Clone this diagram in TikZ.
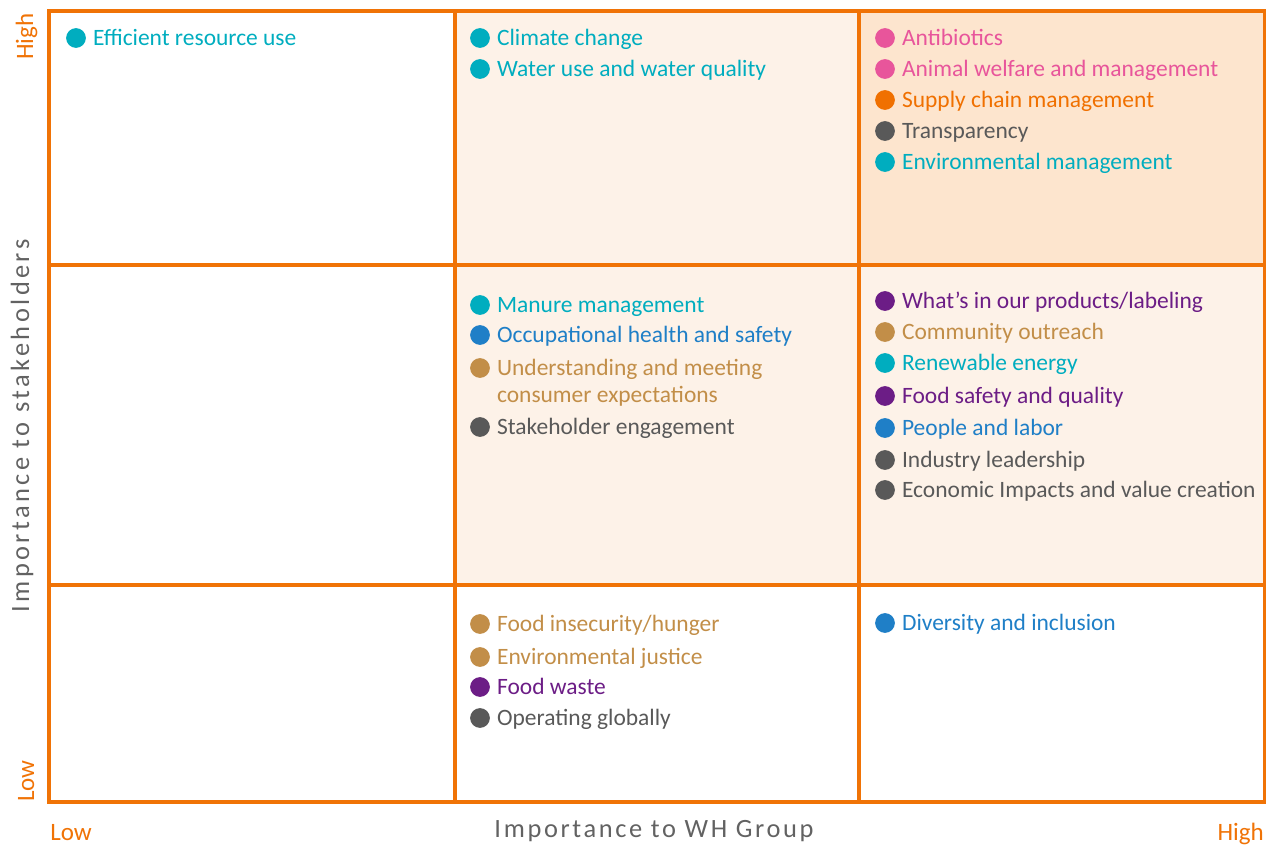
\documentclass[tikz,border=0pt]{standalone}
\usepackage{fontspec}
\setmainfont{Carlito}
\usepackage{tikz}
\usetikzlibrary{positioning}
\definecolor{frameOrange}{HTML}{F07306}
\definecolor{lightPeach} {HTML}{FDF2E8}
\definecolor{deepPeach}  {HTML}{FDE5CE}
\definecolor{envTeal}    {HTML}{00ADBF}
\definecolor{animalPink} {HTML}{E8559B}
\definecolor{chainOrange}{HTML}{F07000}
\definecolor{govGray}    {HTML}{595959}
\definecolor{titleGray}  {HTML}{626262}
\definecolor{socialTan}  {HTML}{C28E48}
\definecolor{prodPurple} {HTML}{6C1D86}
\definecolor{peopleBlue} {HTML}{1F7FC7}
\tikzset{
  grid line/.style={draw=frameOrange, line width=3pt},
  topic dot/.style={circle, inner sep=0pt, minimum size=14.8pt},
  topic text/.style={inner sep=0pt, font=\fontsize{17.6pt}{20pt}\selectfont},
  axis end/.style={inner sep=0pt, text=frameOrange, font=\fontsize{18.75pt}{22pt}\selectfont},
  axis title/.style={inner sep=0pt, text=titleGray,
    font=\fontsize{19.8pt}{24pt}\selectfont\addfontfeatures{LetterSpace=#1}},
  axis title/.default=10,
}
% dot + label, #2/#3 = dot centre
\newcommand{\topic}[5]{%
  \node[topic dot, fill=#4] (#1-dot) at (#2, #3) {};
  \node[topic text, text=#4, right=5pt of #1-dot, anchor=base west, yshift=-5.5pt] (#1) {#5};%
}

\begin{document}
\begin{tikzpicture}[x=0.75pt, y=-0.75pt]
\useasboundingbox (0,0) rectangle (1266,845);

% --- SHADED CELLS ---
\fill[lightPeach] (455,11) rectangle (859,265);
\fill[deepPeach]  (859,11) rectangle (1265,265);
\fill[lightPeach] (455,265) rectangle (1265,585);

% --- GRID ---
\draw[grid line] (455,11) -- (455,802);
\draw[grid line] (859,11) -- (859,802);
\draw[grid line] (49,265) -- (1265,265);
\draw[grid line] (49,585) -- (1265,585);
\draw[grid line] (49,11) rectangle (1265,802);

% --- TOPICS ---
% ROW high
\topic{effres}  {76}{38}{envTeal}{Efficient resource use}
\topic{climate} {480}{38}{envTeal}{Climate change}
\topic{water}   {480}{69}{envTeal}{Water use and water quality}
\topic{antibio} {885}{38}{animalPink}{Antibiotics}
\topic{welfare} {885}{69}{animalPink}{Animal welfare and management}
\topic{supply}  {885}{100}{chainOrange}{Supply chain management}
\topic{transp}  {885}{131}{govGray}{Transparency}
\topic{envmgmt} {885}{162}{envTeal}{Environmental management}
% ROW medium
\topic{manure}  {480}{305}{envTeal}{Manure management}
\topic{ohs}     {480}{335}{peopleBlue}{Occupational health and safety}
\topic{consumer}{480}{368}{socialTan}{Understanding and meeting}
\node[topic text, text=socialTan, anchor=base west] (consumer-2)
  at ([yshift=-20pt]consumer.base west) {consumer expectations};
\topic{stakeh}  {480}{427}{govGray}{Stakeholder engagement}
\topic{labeling}{885}{301}{prodPurple}{What’s in our products/labeling}
\topic{outreach}{885}{332}{socialTan}{Community outreach}
\topic{renew}   {885}{363}{envTeal}{Renewable energy}
\topic{safety}  {885}{396}{prodPurple}{Food safety and quality}
\topic{people}  {885}{428}{peopleBlue}{People and labor}
\topic{leader}  {885}{460}{govGray}{Industry leadership}
\topic{econ}    {885}{490}{govGray}{Economic Impacts and value creation}
% ROW low
\topic{hunger}  {480}{624}{socialTan}{Food insecurity/hunger}
\topic{envjust} {480}{657}{socialTan}{Environmental justice}
\topic{waste}   {480}{687}{prodPurple}{Food waste}
\topic{global}  {480}{718}{govGray}{Operating globally}
\topic{divers}  {885}{623}{peopleBlue}{Diversity and inclusion}

% --- AXES ---
\node[axis end, rotate=90, anchor=base west] (y-high) at (33,60) {High};
\node[axis end, rotate=90, anchor=base west] (y-low)  at (34,802) {Low};
\node[axis end, anchor=base west] (x-low)  at (50,840) {Low};
\node[axis end, anchor=base east] (x-high) at (1264,840) {High};
\node[axis title=13, rotate=90, anchor=base] (y-title) at (29,426) {Importance to stakeholders};
\node[axis title, anchor=base] (x-title) at (654,837) {Importance to WH Group};

\end{tikzpicture}
\end{document}
